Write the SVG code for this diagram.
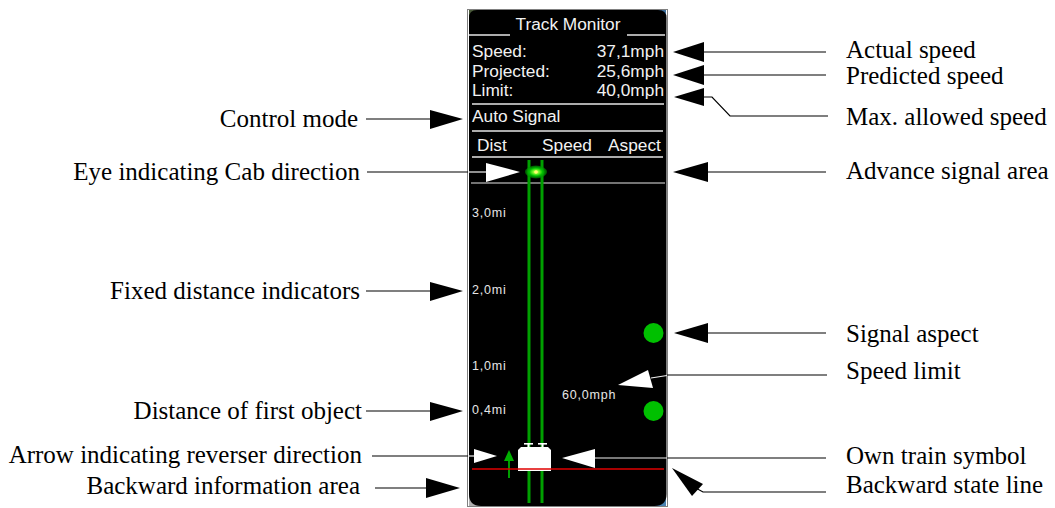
<svg xmlns="http://www.w3.org/2000/svg" width="1055" height="508" viewBox="0 0 1055 508">
<defs>
<style>
.lbl{font-family:"Liberation Serif","Times New Roman",serif;font-size:25px;fill:#000}
.pt{font-family:"Liberation Sans",Arial,sans-serif;font-size:17.3px;fill:#f2f2f2}
.sm{font-family:"Liberation Sans",Arial,sans-serif;font-size:12.5px;letter-spacing:0.8px;fill:#e6e6e6}
.ln{stroke:#000;stroke-width:1.2;fill:none}
.wl{stroke:#f0f0f0;stroke-width:1.2;fill:none}
.sep{stroke:#e6e6e6;stroke-width:1.6}
.bh{fill:#000}
.wh{fill:#fff}
.trk{stroke:#00a000;stroke-width:3}
</style>
<radialGradient id="eye" cx="0.5" cy="0.5" r="0.5">
<stop offset="0" stop-color="#ffff60"/>
<stop offset="0.25" stop-color="#80ff30"/>
<stop offset="0.6" stop-color="#00c000"/>
<stop offset="1" stop-color="#008800" stop-opacity="0.6"/>
</radialGradient>
</defs>
<rect width="1055" height="508" fill="#fff"/>

<g id="panel">
<rect x="469" y="10" width="10" height="10" fill="#4a5a3a"/>
<rect x="656" y="10" width="10" height="10" fill="#3d6f9c"/>
<rect x="469" y="494" width="12" height="12" fill="#b0b0b0"/>
<rect x="654" y="494" width="12" height="12" fill="#4a82b0"/>
<path d="M477,10 H658 Q666.5,10 666.5,18 V494 Q666.5,506 654.5,506 H481 Q469,506 469,494 V18 Q469,10 477,10 Z" fill="#000"/>
<rect x="467.5" y="9.5" width="200" height="497" fill="none" stroke="#000" stroke-width="1" stroke-dasharray="1,1"/>
<text class="pt" x="568" y="30" text-anchor="middle">Track Monitor</text>
<line class="sep" x1="469" y1="35" x2="510" y2="35"/>
<line class="sep" x1="627" y1="35" x2="665" y2="35"/>
<text class="pt" x="472" y="57">Speed:</text>
<text class="pt" x="664" y="57" text-anchor="end">37,1mph</text>
<text class="pt" x="472" y="76.5">Projected:</text>
<text class="pt" x="664" y="76.5" text-anchor="end">25,6mph</text>
<text class="pt" x="472" y="96">Limit:</text>
<text class="pt" x="664" y="96" text-anchor="end">40,0mph</text>
<line class="sep" x1="472" y1="104" x2="664" y2="104"/>
<text class="pt" x="472" y="122">Auto Signal</text>
<line class="sep" x1="472" y1="131" x2="663" y2="131"/>
<text class="pt" x="477" y="151">Dist</text>
<text class="pt" x="542" y="151">Speed</text>
<text class="pt" x="608" y="151">Aspect</text>
<line class="sep" x1="472" y1="157" x2="663" y2="157"/>
<line x1="471" y1="183" x2="665" y2="183" stroke="#e6e6e6" stroke-width="1"/>
</g>

<g id="track">
<line class="trk" x1="529" y1="160" x2="529" y2="503"/>
<line class="trk" x1="542" y1="160" x2="542" y2="503"/>
</g>

<g id="eye-indicator">
<ellipse cx="536" cy="172" rx="11" ry="6.5" fill="url(#eye)"/>
<circle cx="536" cy="172" r="1.8" fill="#ffff70"/>
</g>

<g id="distance-markers">
<text class="sm" x="472" y="217">3,0mi</text>
<text class="sm" x="472" y="294">2,0mi</text>
<text class="sm" x="472" y="370">1,0mi</text>
<text class="sm" x="472" y="414">0,4mi</text>
</g>

<g id="speed-limit">
<text class="sm" x="562" y="399">60,0mph</text>
</g>

<g id="signals">
<circle cx="653.5" cy="333" r="10" fill="#00c000"/>
<circle cx="653.5" cy="411" r="10" fill="#00c000"/>
</g>

<g id="own-train">
<path class="wh" d="M521,447 H548 L551,450 V471 H518 V450 Z"/>
<rect class="wh" x="524" y="443" width="9" height="1.6"/>
<rect class="wh" x="538" y="443" width="9" height="1.6"/>
<rect class="wh" x="527.5" y="443" width="2" height="5"/>
<rect class="wh" x="541.5" y="443" width="2" height="5"/>
</g>

<g id="reverser-arrow">
<line x1="509" y1="459" x2="509" y2="478" stroke="#00b000" stroke-width="1.8"/>
<polygon points="509,450 504,461 514,461" fill="#00b000"/>
</g>

<g id="backward-line">
<line x1="472" y1="469" x2="664" y2="469" stroke="#e00000" stroke-width="1.6"/>
</g>

<g id="connectors">
<line class="ln" x1="366" y1="119" x2="431" y2="119"/>
<polygon class="bh" points="430,110 430,129 463,119"/>
<line class="ln" x1="367" y1="172" x2="468" y2="172"/>
<line class="wl" x1="468" y1="172" x2="487" y2="172"/>
<polygon class="wh" points="486,163 486,182 520,172"/>
<line class="ln" x1="366" y1="291" x2="431" y2="291"/>
<polygon class="bh" points="430,282 430,301 463,291"/>
<line class="ln" x1="366" y1="411" x2="431" y2="411"/>
<polygon class="bh" points="430,402 430,421 463,411"/>
<line class="ln" x1="372" y1="456" x2="468" y2="456"/>
<line class="wl" x1="468" y1="456" x2="475" y2="456"/>
<polygon class="wh" points="474,449 474,463 497,456"/>
<line class="ln" x1="375" y1="488" x2="427" y2="488"/>
<polygon class="bh" points="426,478 426,498 460,488"/>
<line class="ln" x1="703" y1="52" x2="826" y2="52"/>
<polygon class="bh" points="673,52 704,42 704,62"/>
<line class="ln" x1="703" y1="75" x2="826" y2="75"/>
<polygon class="bh" points="673,75 704,65 704,85"/>
<polyline class="ln" points="703,97 712,97 730,116 828,116"/>
<polygon class="bh" points="674,97 704,88 704,106"/>
<line class="ln" x1="707" y1="172" x2="826" y2="172"/>
<polygon class="bh" points="673,172 708,162 708,182"/>
<line class="ln" x1="707" y1="333" x2="826" y2="333"/>
<polygon class="bh" points="674,333 708,323 708,343"/>
<line class="wl" x1="651" y1="378" x2="667" y2="375.5"/>
<line class="ln" x1="667" y1="375" x2="827" y2="375"/>
<polygon class="wh" points="618,385 648,370 653,388"/>
<line class="wl" x1="594" y1="458" x2="667" y2="458"/>
<line class="ln" x1="667" y1="458" x2="826" y2="458"/>
<polygon class="wh" points="562,458 595,449 595,468"/>
<polyline class="ln" points="692,486 703,492 826,492"/>
<polygon class="bh" points="672,468 703,484 692,496"/>
</g>

<g id="labels">
<text class="lbl" x="358" y="127" text-anchor="end">Control mode</text>
<text class="lbl" x="360" y="180" text-anchor="end">Eye indicating Cab direction</text>
<text class="lbl" x="360" y="299" text-anchor="end">Fixed distance indicators</text>
<text class="lbl" x="362" y="419" text-anchor="end">Distance of first object</text>
<text class="lbl" x="362" y="463" text-anchor="end">Arrow indicating reverser direction</text>
<text class="lbl" x="360" y="494" text-anchor="end">Backward information area</text>
<text class="lbl" x="846" y="58">Actual speed</text>
<text class="lbl" x="846" y="84">Predicted speed</text>
<text class="lbl" x="846" y="125">Max. allowed speed</text>
<text class="lbl" x="846" y="179">Advance signal area</text>
<text class="lbl" x="846" y="342">Signal aspect</text>
<text class="lbl" x="846" y="379">Speed limit</text>
<text class="lbl" x="846" y="464">Own train symbol</text>
<text class="lbl" x="846" y="493">Backward state line</text>
</g>
</svg>
